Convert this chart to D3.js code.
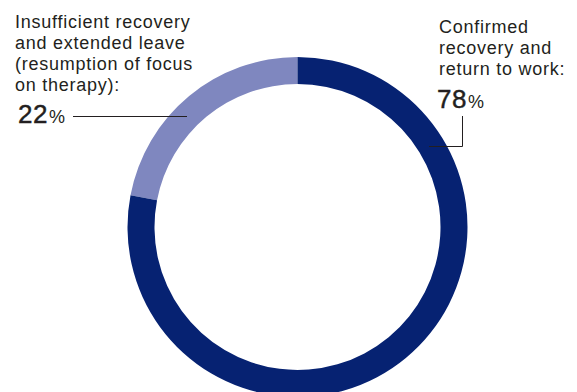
<!DOCTYPE html>
<html>
<head>
<meta charset="utf-8">
<script src="https://cdn.jsdelivr.net/npm/d3@7"></script>
<style>
  html, body { margin: 0; padding: 0; background: #fff; }
  svg { display: block; }
  text { font-family: "Liberation Sans", Arial, Helvetica, sans-serif; fill: #231f20; }
  .line { letter-spacing: 0.75px; }
  .num { stroke: #231f20; stroke-width: 0.45px; letter-spacing: 0.5px; }
</style>
</head>
<body>
<svg id="chart" width="577" height="392"></svg>
<script>
// Outcome categories and their shares (percent)
const categories = ["Insufficient recovery and extended leave", "Confirmed recovery and return to work"];
const values = [22, 78];
const colors = ["#7f87bf", "#062272"];
const labelLines = [
  ["Insufficient recovery", "and extended leave", "(resumption of focus", "on therapy):"],
  ["Confirmed", "recovery and", "return to work:"]
];

const svg = d3.select("#chart");
const cx = 297.5, cy = 227, outerR = 170, innerR = 143;

// 22% runs counter-clockwise from 12 o'clock, 78% fills the rest
const pie = d3.pie().sort(null).value(d => d)
  .startAngle(0).endAngle(-2 * Math.PI);
const arcs = pie(values);
const arc = d3.arc().innerRadius(innerR).outerRadius(outerR);

const g = svg.append("g").attr("transform", `translate(${cx},${cy})`);
g.selectAll("path").data(arcs).join("path")
  .attr("d", arc)
  .attr("fill", (d, i) => colors[i]);

// Left label
const left = svg.append("g");
left.selectAll("text.line").data(labelLines[0]).join("text")
  .attr("class", "line")
  .attr("x", 15).attr("y", (d, i) => 27.5 + i * 21)
  .attr("font-size", 18).text(d => d);
const lv = left.append("text").attr("x", 18).attr("y", 123);
lv.append("tspan").attr("class", "num").attr("font-size", 26).text(values[0]);
lv.append("tspan").attr("font-size", 18).attr("dx", 1).text("%");
left.append("line")
  .attr("x1", 73).attr("x2", 187).attr("y1", 116.5).attr("y2", 116.5)
  .attr("stroke", "#231f20").attr("stroke-width", 1);

// Right label
const right = svg.append("g");
right.selectAll("text.line").data(labelLines[1]).join("text")
  .attr("class", "line")
  .attr("x", 439).attr("y", (d, i) => 33 + i * 21)
  .attr("font-size", 18).text(d => d);
const rv = right.append("text").attr("x", 437).attr("y", 108);
rv.append("tspan").attr("class", "num").attr("font-size", 26).text(values[1]);
rv.append("tspan").attr("font-size", 18).attr("dx", 1).text("%");
right.append("path")
  .attr("d", "M462.5,116 V146.5 H429")
  .attr("fill", "none").attr("stroke", "#231f20").attr("stroke-width", 1);
</script>
</body>
</html>
